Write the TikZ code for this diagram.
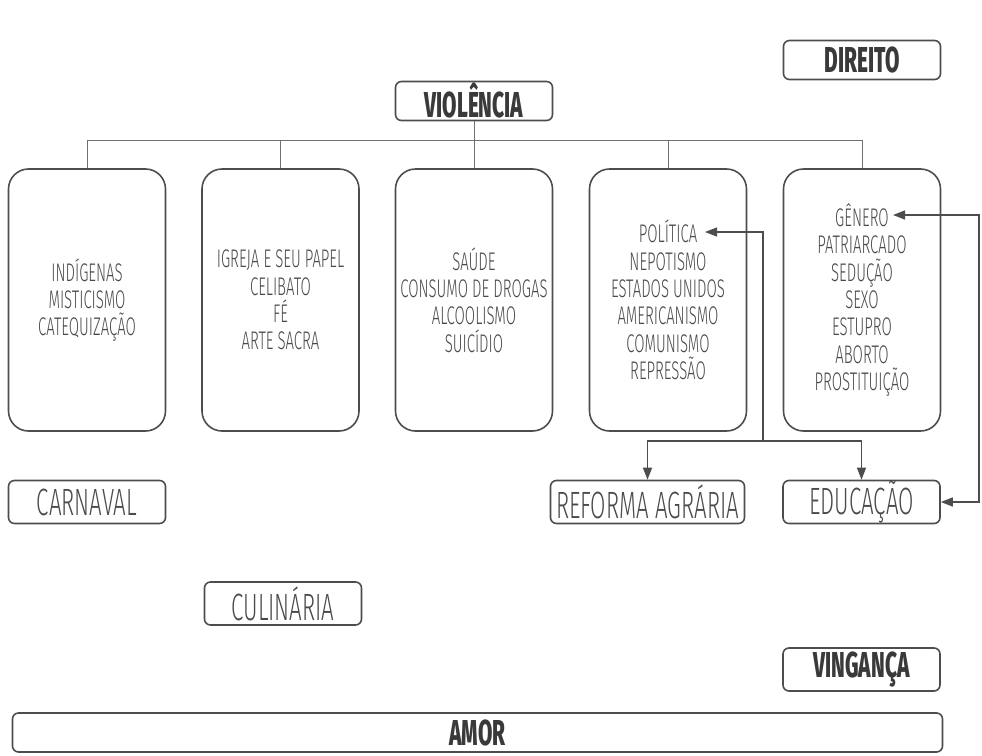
\documentclass[tikz,border=0pt]{standalone}
\usepackage{fontspec}
\usetikzlibrary{arrows.meta}
\IfFontExistsTF{Fira Sans Light}
  {\newfontfamily\thinfont[FakeStretch=0.585]{Fira Sans Light}}
  {\newfontfamily\thinfont[FakeStretch=0.57]{Fira Sans}}
\IfFontExistsTF{Fira Sans ExtraBold}
  {\newfontfamily\heavyfont[FakeStretch=0.58]{Fira Sans ExtraBold}}
  {\newfontfamily\heavyfont[FakeStretch=0.58,FakeBold=1.5]{Fira Sans}}
\definecolor{linegray}{HTML}{4D4D4D}
\definecolor{wiregray}{HTML}{707070}
\definecolor{textgray}{HTML}{4A4A4A}
\definecolor{headgray}{HTML}{3A3A3A}
\tikzset{%
  theme/.style={draw=linegray, line width=1.6pt, rounded corners=20pt,
    minimum width=157pt, minimum height=262pt, inner sep=0pt, align=center,
    text=textgray, font=\thinfont\fontsize{25.5}{27.3}\selectfont},
  tag/.style={draw=linegray, line width=1.6pt, rounded corners=6pt,
    minimum width=157pt, minimum height=43pt, inner sep=0pt,
    text=textgray, font=\thinfont\fontsize{38}{38}\selectfont},
  headtag/.style={tag, minimum height=39pt, text=headgray,
    font=\heavyfont\fontsize{36}{36}\selectfont},
  wire/.style={draw=wiregray, line width=0.9pt},
  flow/.style={draw=linegray, line width=1.3pt, -{Triangle[length=12pt,width=9pt]}},
}
\begin{document}
\begin{tikzpicture}[x=1pt, y=-1pt]
  \useasboundingbox (0,0) rectangle (982,755);
  % titles
  \node[headtag] (direito) at (862,60) {DIREITO};
  \node[headtag] (violencia) at (474,101) {VIOLÊNCIA};
  % themes
  \node[theme] (t1) at (87,300) {INDÍGENAS\\MISTICISMO\\CATEQUIZAÇÃO};
  \node[theme] (t2) at (280.5,300) {IGREJA E SEU PAPEL\\CELIBATO\\FÉ\\ARTE SACRA};
  \node[theme] (t3) at (474,300) {SAÚDE\\CONSUMO DE DROGAS\\ALCOOLISMO\\SUICÍDIO};
  \node[theme] (t4) at (668,300) {POLÍTICA\\NEPOTISMO\\ESTADOS UNIDOS\\AMERICANISMO\\COMUNISMO\\REPRESSÃO};
  \node[theme] (t5) at (862,300) {GÊNERO\\PATRIARCADO\\SEDUÇÃO\\SEXO\\ESTUPRO\\ABORTO\\PROSTITUIÇÃO};
  % loose tags
  \node[tag] (carnaval) at (87,502) {CARNAVAL};
  \node[tag, minimum width=194pt] (reforma) at (647.5,502) {REFORMA AGRÁRIA};
  \node[tag] (educacao) at (861.5,502) {EDUCAÇÃO};
  \node[tag] (culinaria) at (283,603.5) {CULINÁRIA};
  \node[headtag, minimum height=43pt] (vinganca) at (861.5,669.5) {VINGANÇA};
  \node[headtag, minimum width=930pt] (amor) at (477.5,732.5) {AMOR};
  % tree
  \coordinate (bus) at (474,140);
  \draw[wire] (violencia.south) -- (bus);
  \draw[wire] (t1.north |- bus) -- (t5.north |- bus);
  \foreach \i in {1,...,5}
    \draw[wire] (t\i.north |- bus) -- (t\i.north);
  % arrows
  \coordinate (politica) at (705,232);
  \coordinate (genero) at (893,215);
  \coordinate (split) at (763,441);
  \coordinate (rail) at (979,502);
  \draw[flow] (split) |- (politica);
  \draw[flow] (split) -| (reforma.north);
  \draw[flow] (split) -| (educacao.north);
  \draw[flow, {Triangle[length=12pt,width=9pt]}-{Triangle[length=12pt,width=9pt]}] (genero) -| (rail) -- (educacao.east);
\end{tikzpicture}
\end{document}
